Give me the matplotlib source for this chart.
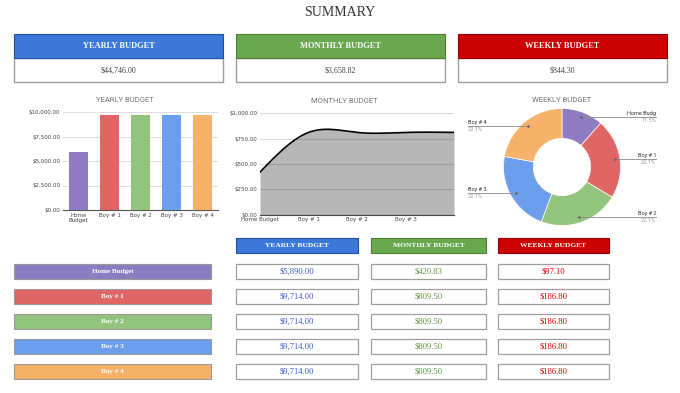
import numpy as np
import matplotlib
matplotlib.use("Agg")
import matplotlib.pyplot as plt
from matplotlib.patches import Rectangle
from matplotlib.ticker import FuncFormatter

# ---------------- data ----------------
categories = ["Home Budget", "Boy # 1", "Boy # 2", "Boy # 3", "Boy # 4"]
bar_labels = ["Home\nBudget", "Boy # 1", "Boy # 2", "Boy # 3", "Boy # 4"]
yearly = [5890.00, 9714.00, 9714.00, 9714.00, 9714.00]
monthly = [420.83, 809.50, 809.50, 809.50, 809.50]
weekly = [97.10, 186.80, 186.80, 186.80, 186.80]
total_labels = ["YEARLY BUDGET", "MONTHLY BUDGET", "WEEKLY BUDGET"]
total_values = [44746.00, 3658.82, 844.30]
bar_yticks = [0, 2500, 5000, 7500, 10000]
line_yticks = [0, 250, 500, 750, 1000]

cat_colors = ["#8e7cc3", "#e06666", "#93c47d", "#6d9eeb", "#f6b26b"]
head_colors = ["#3c78d8", "#6aa84f", "#cc0000"]
head_edges = ["#1c4fa8", "#4a7f34", "#990000"]
val_colors = ["#3d5fd0", "#5b9a45", "#d90000"]

W, H = 680, 393
fig = plt.figure(figsize=(W / 100, H / 100), dpi=100)
fig.patch.set_facecolor("white")

def ax_px(x0, y0, x1, y1, **kw):
    return fig.add_axes([x0 / W, 1 - y1 / H, (x1 - x0) / W, (y1 - y0) / H], **kw)

serif = "Liberation Serif"
sans = "Roboto"

# overlay for boxes / text
ov = ax_px(0, 0, W, H)
ov.set_xlim(0, W)
ov.set_ylim(H, 0)
ov.axis("off")
ov.set_zorder(0)

def money(v):
    return "${:,.2f}".format(v)

ov.text(340, 12, "SUMMARY", ha="center", va="center", fontsize=10,
        family=serif, color="#333333")

def box(x0, y0, x1, y1, fc, ec, lw=0.8):
    ov.add_patch(Rectangle((x0, y0), x1 - x0, y1 - y0, facecolor=fc,
                           edgecolor=ec, linewidth=lw))

# top summary boxes
top_x = [(14, 223), (236, 445), (458, 667)]
for (x0, x1), lab, val, hc, he in zip(top_x, total_labels, total_values,
                                       head_colors, head_edges):
    box(x0, 58, x1, 82, "white", "#9e9e9e", 1.0)
    box(x0, 34, x1, 58, hc, he, 0.8)
    ov.text((x0 + x1) / 2, 46.5, lab, ha="center", va="center", fontsize=6.0,
            family=serif, weight="bold", color="white")
    ov.text((x0 + x1) / 2, 70.5, money(val), ha="center", va="center",
            fontsize=5.7, family=serif, color="#444444")

# bottom table
col_x = [(236, 358), (371, 486), (498, 609)]
for (x0, x1), lab, hc, he in zip(col_x, total_labels, head_colors, head_edges):
    box(x0, 238, x1, 253, hc, he, 0.8)
    ov.text((x0 + x1) / 2, 245.5, lab, ha="center", va="center", fontsize=5.4,
            family=serif, weight="bold", color="white")

row_y = [264, 289, 314, 339, 364]
for i, (cat, col) in enumerate(zip(categories, cat_colors)):
    y0 = row_y[i]
    y1 = y0 + 15
    box(14, y0, 211, y1, col, "#999999", 0.8)
    ov.text(112.5, (y0 + y1) / 2, cat, ha="center", va="center", fontsize=5.1,
            family=serif, weight="bold", color="white")
    for j, (vals, (x0, x1)) in enumerate(zip([yearly, monthly, weekly], col_x)):
        box(x0, y0, x1, y1, "white", "#9e9e9e", 0.9)
        ov.text((x0 + x1) / 2, (y0 + y1) / 2, money(vals[i]), ha="center",
                va="center", fontsize=6.2, family=serif, color=val_colors[j])

title_kw = dict(ha="center", va="center", fontsize=5.5, family=sans,
                color="#757575")
tick_fs = 4.0

# ---------------- bar chart ----------------
ax1 = ax_px(63, 112, 218, 210)
xs = np.arange(len(categories))
ax1.bar(xs, yearly, width=0.62, color=cat_colors, zorder=3)
ax1.set_xlim(-0.5, len(categories) - 0.5)
ax1.set_ylim(0, 10000)
ax1.set_yticks(bar_yticks)
ax1.yaxis.set_major_formatter(FuncFormatter(lambda v, p: money(v)))
ax1.set_xticks(xs)
ax1.set_xticklabels(bar_labels, linespacing=0.95)
ax1.tick_params(axis="both", length=0, labelsize=tick_fs, colors="#444444",
                pad=2)
ax1.grid(axis="y", color="#dddddd", linewidth=0.7, zorder=0)
for s in ["top", "right", "left"]:
    ax1.spines[s].set_visible(False)
ax1.spines["bottom"].set_color("#555555")
ax1.spines["bottom"].set_linewidth(0.8)
ax1.set_facecolor("none")
ov.text(125, 100, "YEARLY BUDGET", **title_kw)

# ---------------- area chart ----------------
ax2 = ax_px(260, 113, 454, 215)
xl = np.arange(len(monthly), dtype=float)
yl = np.array(monthly, dtype=float)
# natural cubic spline for a smooth curve through the points
n = len(xl)
A = np.zeros((n, n))
b = np.zeros(n)
A[0, 0] = 1
A[-1, -1] = 1
for i in range(1, n - 1):
    A[i, i - 1], A[i, i], A[i, i + 1] = 1, 4, 1
    b[i] = 6 * (yl[i + 1] - 2 * yl[i] + yl[i - 1])
M = np.linalg.solve(A, b)
xs_f, ys_f = [], []
for i in range(n - 1):
    t = np.linspace(0, 1, 40)
    s = (1 - t) * yl[i] + t * yl[i + 1] \
        + ((1 - t) ** 3 - (1 - t)) * M[i] / 6 + (t ** 3 - t) * M[i + 1] / 6
    xs_f.append(xl[i] + t)
    ys_f.append(s)
xs_f = np.concatenate(xs_f)
ys_f = np.concatenate(ys_f)
ax2.fill_between(xs_f, 0, ys_f, color="#b7b7b7", zorder=1, linewidth=0)
ax2.plot(xs_f, ys_f, color="black", linewidth=1.2, zorder=3)
ax2.set_xlim(0, len(monthly) - 1)
ax2.set_ylim(0, 1000)
ax2.set_yticks(line_yticks)
ax2.yaxis.set_major_formatter(FuncFormatter(lambda v, p: money(v)))
ax2.set_xticks(xl[:4])
ax2.set_xticklabels(categories[:4])
ax2.tick_params(axis="both", length=0, labelsize=tick_fs, colors="#444444",
                pad=2)
ax2.tick_params(axis="x", pad=1.5)
ax2.grid(axis="y", color="black", alpha=0.15, linewidth=0.8, zorder=2)
ax2.set_axisbelow(False)
for s in ["top", "right", "left"]:
    ax2.spines[s].set_visible(False)
ax2.spines["bottom"].set_color("#444444")
ax2.spines["bottom"].set_linewidth(0.8)
ax2.set_facecolor("none")
ov.text(344, 101, "MONTHLY BUDGET", **title_kw)

# ---------------- donut ----------------
px0, py0, px1, py1 = 460, 95, 670, 235
ax3 = ax_px(px0, py0, px1, py1)
cx, cy, R = 562, H - 167, 58.5
wedges, _ = ax3.pie(weekly, colors=cat_colors, startangle=90,
                    counterclock=False, center=(cx, cy), radius=R,
                    wedgeprops=dict(width=R * 0.51, edgecolor="white",
                                    linewidth=0.5), frame=True)
ax3.set_xlim(px0, px1)
ax3.set_ylim(H - py1, H - py0)
ax3.axis("off")
total = sum(weekly)
for w, cat, v in zip(wedges, categories, weekly):
    ang = np.deg2rad((w.theta1 + w.theta2) / 2)
    sx = cx + 0.91 * R * np.cos(ang)
    sy = cy + 0.91 * R * np.sin(ang)
    pct = "{:.1f}%".format(100 * v / total)
    name = cat if len(cat) <= 9 else cat[:9]
    if np.cos(ang) >= 0:
        ex = 656
        ha = "right"
    else:
        ex = 468
        ha = "left"
    ax3.plot([sx, ex], [sy, sy], color="#888888", linewidth=0.6)
    ax3.plot([sx], [sy], marker="o", markersize=0.9, color="#666666")
    ax3.text(ex, sy + 1.0, name, ha=ha, va="bottom", fontsize=4.0,
             family=sans, color="#333333")
    ax3.text(ex, sy - 1.0, pct, ha=ha, va="top", fontsize=4.0,
             family=sans, color="#999999")
ov.text(562, 100, "WEEKLY BUDGET", **title_kw)

fig.savefig("out.png", dpi=100, facecolor="white")
